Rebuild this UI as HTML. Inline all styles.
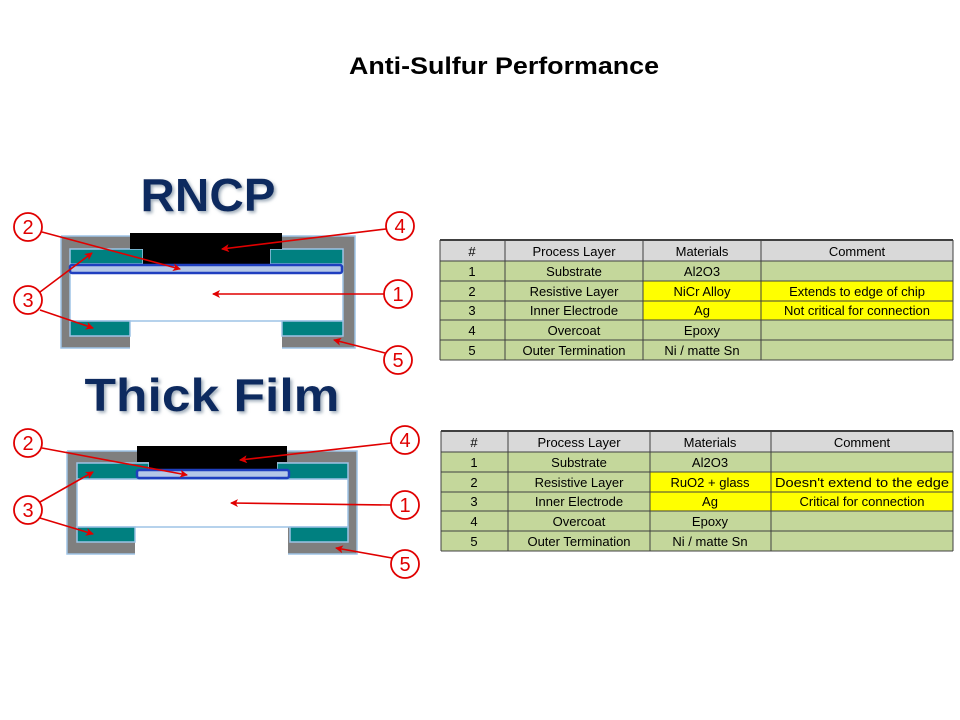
<!DOCTYPE html>
<html><head><style>body{margin:0;background:#fff}svg{display:block}</style></head><body>
<svg width="960" height="720" viewBox="0 0 960 720" xmlns="http://www.w3.org/2000/svg" font-family="Liberation Sans, sans-serif">
<defs>
<marker id="ah" markerWidth="8" markerHeight="8" refX="7" refY="4" orient="auto" markerUnits="userSpaceOnUse"><path d="M0,0 L8,4 L0,8 L2,4 Z" fill="#e00000"/></marker>
<filter id="sh"><feDropShadow dx="2" dy="2" stdDeviation="1.5" flood-color="#8899aa" flood-opacity="0.8"/></filter>
</defs>
<text x="504" y="74" text-anchor="middle" font-size="24" font-weight="bold" textLength="310" lengthAdjust="spacingAndGlyphs">Anti-Sulfur Performance</text>

<text x="208" y="211" text-anchor="middle" font-size="46" font-weight="bold" fill="#0f2a5e" filter="url(#sh)" textLength="135" lengthAdjust="spacingAndGlyphs">RNCP</text>
<text x="212" y="411" text-anchor="middle" font-size="46" font-weight="bold" fill="#0f2a5e" filter="url(#sh)" textLength="255" lengthAdjust="spacingAndGlyphs">Thick Film</text>

<!-- RNCP diagram -->
<path d="M61,236 H130 V233 H282 V236 H355 V348 H282 V321 H130 V348 H61 Z" fill="#7f7f7f"/>
<g stroke="#9dc3e6" stroke-width="1.5">
<path d="M61,236 H130 M282,236 H355 V348 H282 M130,348 H61 V236" fill="none"/>
<rect x="70" y="264" width="273" height="57" fill="#fff"/>
<rect x="70" y="249" width="73" height="15" fill="#008080"/>
<rect x="270" y="249" width="73" height="15" fill="#008080"/>
<rect x="70" y="321" width="60" height="15" fill="#008080"/>
<rect x="282" y="321" width="61" height="15" fill="#008080"/>
</g>
<path d="M130,233 H282 V249 H270 V264 H143 V249 H130 Z" fill="#000"/>
<rect x="70" y="265" width="272" height="8" rx="2" fill="#b4c7e7" stroke="#1f3fbf" stroke-width="2.5"/>

<!-- Thick film diagram -->
<path d="M67,451 H137 V446 H287 V451 H357 V554 H288 V527 H135 V554 H67 Z" fill="#7f7f7f"/>
<g stroke="#9dc3e6" stroke-width="1.5">
<path d="M67,451 H137 M287,451 H357 V554 H288 M135,554 H67 V451" fill="none"/>
<rect x="77" y="479" width="271" height="48" fill="#fff"/>
<rect x="77" y="463" width="72" height="16" fill="#008080"/>
<rect x="277" y="463" width="71" height="16" fill="#008080"/>
<rect x="77" y="527" width="58" height="15" fill="#008080"/>
<rect x="290" y="527" width="58" height="15" fill="#008080"/>
</g>
<path d="M137,446 H287 V462 H277 V470 H149 V462 H137 Z" fill="#000"/>
<rect x="137" y="470" width="152" height="8" rx="2" fill="#b4c7e7" stroke="#1f3fbf" stroke-width="2.5"/>

<!-- callouts -->
<g fill="#fff" stroke="#e00000" stroke-width="1.8">
<circle cx="28" cy="227" r="14"/><circle cx="400" cy="226" r="14"/><circle cx="28" cy="300" r="14"/><circle cx="398" cy="294" r="14"/><circle cx="398" cy="360" r="14"/>
<circle cx="28" cy="443" r="14"/><circle cx="405" cy="440" r="14"/><circle cx="28" cy="510" r="14"/><circle cx="405" cy="505" r="14"/><circle cx="405" cy="564" r="14"/>
</g>
<g fill="#e00000" font-size="20" text-anchor="middle">
<text x="28" y="234">2</text><text x="400" y="233">4</text><text x="28" y="307">3</text><text x="398" y="301">1</text><text x="398" y="367">5</text>
<text x="28" y="450">2</text><text x="405" y="447">4</text><text x="28" y="517">3</text><text x="405" y="512">1</text><text x="405" y="571">5</text>
</g>
<g stroke="#e00000" stroke-width="1.6" marker-end="url(#ah)">
<line x1="42" y1="232" x2="180" y2="269"/><line x1="386" y1="229" x2="222" y2="249"/>
<line x1="40" y1="292" x2="92" y2="253"/><line x1="40" y1="310" x2="93" y2="328"/>
<line x1="384" y1="294" x2="213" y2="294"/><line x1="385" y1="353" x2="334" y2="340"/>
<line x1="42" y1="448" x2="187" y2="475"/><line x1="391" y1="443" x2="240" y2="460"/>
<line x1="40" y1="502" x2="93" y2="472"/><line x1="40" y1="518" x2="93" y2="534"/>
<line x1="391" y1="505" x2="231" y2="503"/><line x1="392" y1="558" x2="336" y2="548"/>
</g>

<!-- table 1 -->
<g font-size="13" text-anchor="middle" fill="#000">
<rect x="440" y="240" width="513" height="21" fill="#d9d9d9"/>
<rect x="440" y="261" width="513" height="99" fill="#c4d79b"/>
<rect x="643" y="281" width="310" height="39" fill="#ffff00"/>
<g stroke="#404040" stroke-width="1">
<line x1="440" y1="240" x2="953" y2="240" stroke-width="2"/>
<line x1="440" y1="261" x2="953" y2="261"/><line x1="440" y1="281" x2="953" y2="281"/><line x1="440" y1="301" x2="953" y2="301"/><line x1="440" y1="320" x2="953" y2="320"/><line x1="440" y1="340" x2="953" y2="340"/><line x1="440" y1="360" x2="953" y2="360"/>
<line x1="440" y1="240" x2="440" y2="360"/><line x1="505" y1="240" x2="505" y2="360"/><line x1="643" y1="240" x2="643" y2="360"/><line x1="761" y1="240" x2="761" y2="360"/><line x1="953" y1="240" x2="953" y2="360"/>
</g>
<text x="472" y="256">#</text><text x="574" y="256">Process Layer</text><text x="702" y="256">Materials</text><text x="857" y="256">Comment</text>
<text x="472" y="276">1</text><text x="574" y="276">Substrate</text><text x="702" y="276">Al2O3</text>
<text x="472" y="296">2</text><text x="574" y="296">Resistive Layer</text><text x="702" y="296">NiCr Alloy</text><text x="857" y="296">Extends to edge of chip</text>
<text x="472" y="315">3</text><text x="574" y="315">Inner Electrode</text><text x="702" y="315">Ag</text><text x="857" y="315">Not critical for connection</text>
<text x="472" y="335">4</text><text x="574" y="335">Overcoat</text><text x="702" y="335">Epoxy</text>
<text x="472" y="355">5</text><text x="574" y="355">Outer Termination</text><text x="702" y="355">Ni / matte Sn</text>
</g>

<!-- table 2 -->
<g font-size="13" text-anchor="middle" fill="#000">
<rect x="441" y="431" width="512" height="21" fill="#d9d9d9"/>
<rect x="441" y="452" width="512" height="99" fill="#c4d79b"/>
<rect x="650" y="472" width="303" height="39" fill="#ffff00"/>
<g stroke="#404040" stroke-width="1">
<line x1="441" y1="431" x2="953" y2="431" stroke-width="2"/>
<line x1="441" y1="452" x2="953" y2="452"/><line x1="441" y1="472" x2="953" y2="472"/><line x1="441" y1="492" x2="953" y2="492"/><line x1="441" y1="511" x2="953" y2="511"/><line x1="441" y1="531" x2="953" y2="531"/><line x1="441" y1="551" x2="953" y2="551"/>
<line x1="441" y1="431" x2="441" y2="551"/><line x1="508" y1="431" x2="508" y2="551"/><line x1="650" y1="431" x2="650" y2="551"/><line x1="771" y1="431" x2="771" y2="551"/><line x1="953" y1="431" x2="953" y2="551"/>
</g>
<text x="474" y="447">#</text><text x="579" y="447">Process Layer</text><text x="710" y="447">Materials</text><text x="862" y="447">Comment</text>
<text x="474" y="467">1</text><text x="579" y="467">Substrate</text><text x="710" y="467">Al2O3</text>
<text x="474" y="487">2</text><text x="579" y="487">Resistive Layer</text><text x="710" y="487">RuO2 + glass</text><text x="862" y="487" textLength="174" lengthAdjust="spacingAndGlyphs">Doesn't extend to the edge</text>
<text x="474" y="506">3</text><text x="579" y="506">Inner Electrode</text><text x="710" y="506">Ag</text><text x="862" y="506">Critical for connection</text>
<text x="474" y="526">4</text><text x="579" y="526">Overcoat</text><text x="710" y="526">Epoxy</text>
<text x="474" y="546">5</text><text x="579" y="546">Outer Termination</text><text x="710" y="546">Ni / matte Sn</text>
</g>
</svg>
</body></html>
